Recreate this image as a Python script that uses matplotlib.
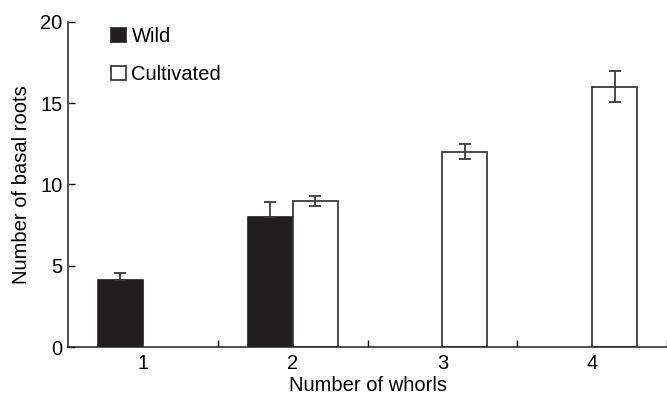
import numpy as np
import matplotlib
matplotlib.use("Agg")
import matplotlib.pyplot as plt

plt.rcParams['font.family'] = ['Liberation Sans', 'DejaVu Sans']

whorls = [1, 2, 3, 4]
wild_x = [1, 2]
wild_vals = [4.1, 8.0]
wild_err = [0.45, 0.95]
cult_x = [2, 3, 4]
cult_vals = [9.0, 12.0, 16.0]
cult_err = [0.3, 0.46, 0.95]

fs = 14.5

fig = plt.figure(figsize=(6.67, 3.98), dpi=100)
ax = fig.add_axes([0.102, 0.128, 0.898, 0.817])

w = 0.3
edge = '#3a3a3a'
ax.bar(np.array(wild_x) - w / 2, wild_vals, width=w, color='#231f20',
       edgecolor='#231f20', linewidth=1.2, label='Wild', zorder=2)
ax.errorbar(np.array(wild_x) - w / 2, wild_vals, yerr=[[0, 0], wild_err],
            fmt='none', ecolor=edge, elinewidth=1.3, capsize=4, capthick=1.3, zorder=3)
ax.bar(np.array(cult_x) + w / 2, cult_vals, width=w, color='white',
       edgecolor=edge, linewidth=1.3, label='Cultivated', zorder=2)
ax.errorbar(np.array(cult_x) + w / 2, cult_vals, yerr=cult_err,
            fmt='none', ecolor=edge, elinewidth=1.3, capsize=4, capthick=1.3, zorder=3)

ax.set_xlim(0.5, 4.5)
ax.set_ylim(0, 20)
ax.set_yticks([0, 5, 10, 15, 20])
ax.set_xticks(whorls)
ax.set_xticks([1.5, 2.5, 3.5, 4.5], minor=True)
ax.tick_params(axis='x', which='major', length=0, labelsize=fs, pad=5)
ax.tick_params(axis='x', which='minor', direction='in', length=5, width=1)
ax.tick_params(axis='y', direction='in', length=5, width=1, labelsize=fs, pad=4)

for s in ['top', 'right']:
    ax.spines[s].set_visible(False)
for s in ['left', 'bottom']:
    ax.spines[s].set_linewidth(1.1)
    ax.spines[s].set_color('#222222')

ax.set_xlabel('Number of whorls', fontsize=fs, labelpad=2)
ax.set_ylabel('Number of basal roots', fontsize=fs, labelpad=7)

ax.legend(loc='upper left', bbox_to_anchor=(0.042, 1.04), frameon=False,
          handlelength=0.75, handleheight=0.75, handletextpad=0.25,
          labelspacing=0.95, fontsize=fs)

fig.savefig('out.png', dpi=100)
